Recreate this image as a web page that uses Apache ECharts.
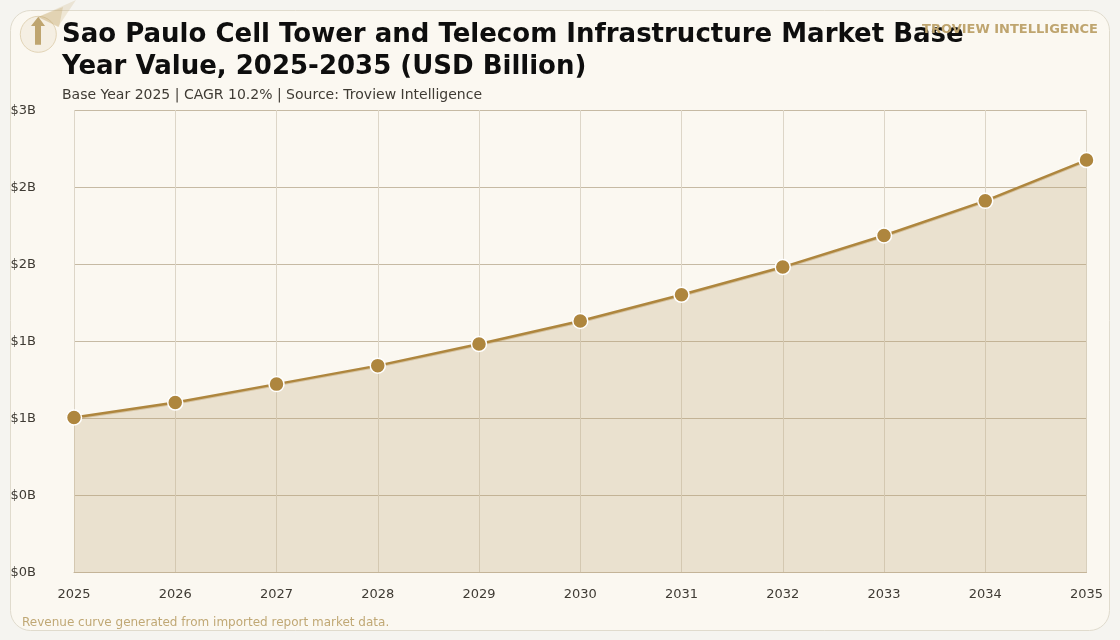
<!DOCTYPE html>
<html>
<head>
<meta charset="utf-8">
<style>html,body{margin:0;padding:0;background:#f5f4f0}#chart{width:1120px;height:640px}</style>
<script src="https://cdn.jsdelivr.net/npm/echarts@6/dist/echarts.min.js"></script>
</head>
<body>
<div id="chart"></div>
<script>
const years = ['2025','2026','2027','2028','2029','2030','2031','2032','2033','2034','2035'];
const marketValue = [1.003,1.10,1.22,1.34,1.48,1.63,1.80,1.98,2.185,2.41,2.675];
const titleLines = 'Sao Paulo Cell Tower and Telecom Infrastructure Market Base\nYear Value, 2025-2035 (USD Billion)';
const subtitle = 'Base Year 2025 | CAGR 10.2% | Source: Troview Intelligence';
const brand = 'TROVIEW INTELLIGENCE';
const footnote = 'Revenue curve generated from imported report market data.';

const FONT = '"DejaVu Sans", sans-serif';
const chart = echarts.init(document.getElementById('chart'), null, {renderer:'canvas'});

chart.setOption({
  animation:false,
  backgroundColor:'#f5f4f0',
  textStyle:{fontFamily:FONT},
  title:[
    {text:titleLines,left:62,top:19,padding:0,textStyle:{fontFamily:FONT,fontSize:26,fontWeight:'bold',color:'#0e0e0e',lineHeight:32}},
    {text:subtitle,left:62,top:88,padding:0,textStyle:{fontFamily:FONT,fontSize:14,fontWeight:'normal',color:'#3f3b34'}},
    {text:brand,right:22,top:23,padding:0,textStyle:{fontFamily:FONT,fontSize:13,fontWeight:'bold',color:'#bfa56f'}},
    {text:footnote,left:22,top:617,padding:0,textStyle:{fontFamily:FONT,fontSize:12,fontWeight:'normal',color:'#c0a875'}}
  ],
  grid:{left:74,right:33.5,top:110,bottom:68,containLabel:false,show:false},
  xAxis:{
    type:'category',data:years,boundaryGap:false,
    axisLine:{show:true,lineStyle:{color:'#c4b498',width:1}},
    axisTick:{show:false},
    axisLabel:{color:'#3f3b34',fontSize:13,margin:16,hideOverlap:false,interval:0},
    splitLine:{show:true,lineStyle:{color:'#ddd6c8',width:1}}
  },
  yAxis:{
    type:'value',min:0,max:3,interval:0.5,
    axisLine:{show:false},axisTick:{show:false},
    axisLabel:{color:'#3f3b34',fontSize:13,margin:38,verticalAlign:'top',padding:[-6,0,0,0],formatter:v=>'$'+Math.floor(v)+'B'},
    splitLine:{show:true,lineStyle:{color:'#c6baa4',width:1}}
  },
  series:[{
    type:'line',data:marketValue,smooth:false,symbol:'circle',symbolSize:15,
    lineStyle:{color:'#ae863e',width:2.5,shadowColor:'rgba(174,134,62,0.35)',shadowOffsetY:1,shadowBlur:0},
    itemStyle:{color:'#ae863e',borderColor:'#ffffff',borderWidth:1.5},
    areaStyle:{color:'rgba(188,164,116,0.27)',opacity:1},
    z:3
  }],
  graphic:{elements:[
    {type:'rect',silent:true,z:-10,shape:{x:10.5,y:10.5,width:1099,height:620,r:20},style:{fill:'#fbf8f1',stroke:'#e0dbcd',lineWidth:1}},
    {type:'circle',z:1,silent:true,shape:{cx:38.3,cy:34.3,r:18},style:{fill:'#f5efe3',stroke:'#e2d4b6',lineWidth:1}},
    {type:'polygon',z:2,silent:true,shape:{points:[[38,17],[76,0],[58,27]]},style:{fill:'rgba(196,164,104,0.2)'}},
    {type:'polygon',z:2,silent:true,shape:{points:[[38,17],[63,7],[59,27]]},style:{fill:'rgba(196,164,104,0.3)'}},
    {type:'polygon',z:3,silent:true,shape:{points:[[38.3,16.7],[45,26],[41,26],[41,44.7],[35,44.7],[35,26],[31,26]]},style:{fill:'#bfa56f'}}
  ]}
});
</script>
</body>
</html>
